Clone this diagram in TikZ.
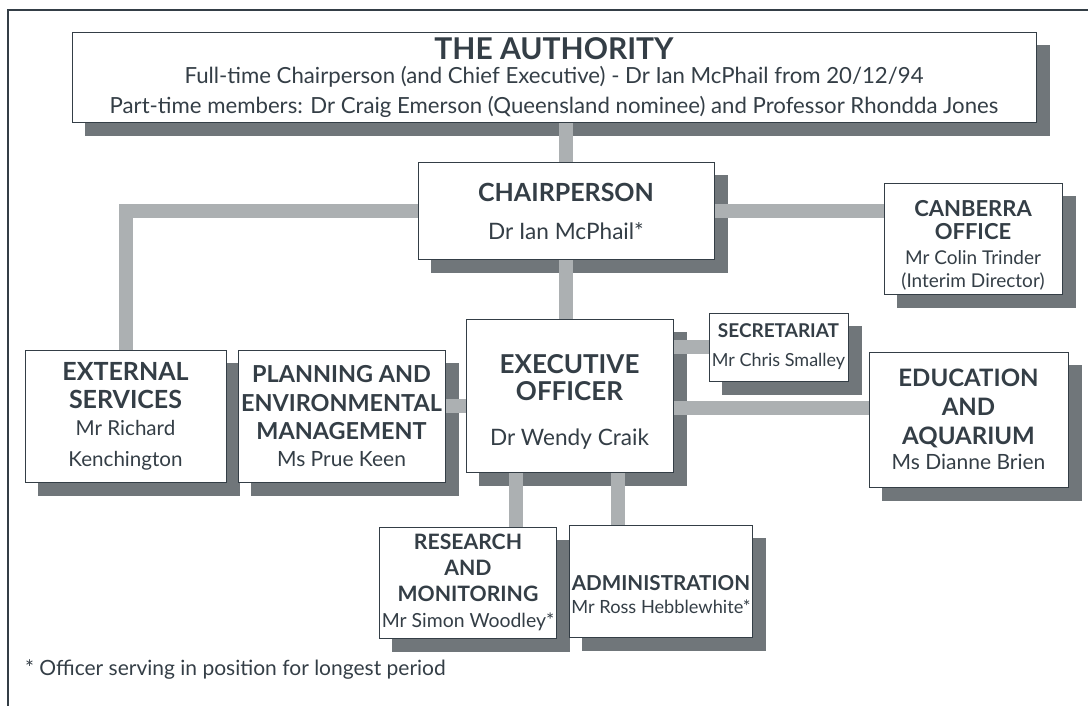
\documentclass[tikz,border=0pt]{standalone}
\usepackage{fontspec}
\setmainfont{Lato}
\pgfdeclarelayer{shadowlayer}
\pgfdeclarelayer{linklayer}
\pgfsetlayers{shadowlayer,linklayer,main}
\definecolor{ink}{RGB}{52,62,70}
\definecolor{shadowgray}{RGB}{112,118,122}
\definecolor{linkgray}{RGB}{172,176,178}
\newcommand{\hd}[2]{{\bfseries\fontsize{#1}{#1}\selectfont #2}}
\newcommand{\pad}[1]{\rule{0pt}{#1}}

\begin{document}
\begin{tikzpicture}[x=0.5pt, y=-0.5pt,
  every node/.append style={text=ink},
  unitbox/.style={draw=ink, line width=0.5pt, fill=white, align=center, inner sep=1pt},
  txt/.style 2 args={font=\fontsize{#1}{#2}\selectfont},
  link/.style={linkgray, line width=7pt},
  shadowbox/.style={fill=shadowgray},
  frame/.style={ink, line width=0.6pt}]

\useasboundingbox (0,0) rectangle (1088,706);
\draw[frame] (8,706) -- (8,10) -- (1088,10);

\node[unitbox, txt={11.1}{11}, minimum width=482pt, minimum height=45pt] (auth) at (554,78)
  {\hd{15}{THE AUTHORITY}\\[1pt] Full-time Chairperson (and Chief Executive) - Dr Ian McPhail from 20/12/94\\[4pt]
   Part-time members: Dr Craig Emerson (Queensland nominee) and Professor Rhondda Jones};
\node[unitbox, txt={11.3}{11}, minimum width=148pt, minimum height=48pt] (chair) at (566,211)
  {\hd{12.5}{CHAIRPERSON}\\[8pt] Dr Ian McPhail*};
\node[unitbox, txt={9.5}{11.5}, minimum width=89pt, minimum height=55pt] (canb) at (973,239)
  {\pad{14.5pt}\hd{11}{CANBERRA}\\ \hd{11}{OFFICE}\\[1pt] Mr Colin Trinder\\ (Interim Director)};
\node[unitbox, txt={11.3}{13.5}, minimum width=103.5pt, minimum height=76.5pt] (exec) at (569.5,395.5)
  {\pad{16pt}\hd{13}{EXECUTIVE}\\ \hd{13}{OFFICER}\\[9pt] Dr Wendy Craik};
\node[unitbox, txt={9}{14.5}, minimum width=69.5pt, minimum height=34pt] (sec) at (778.5,347)
  {\hd{9.5}{SECRETARIAT}\\ Mr Chris Smalley};
\node[unitbox, txt={10.5}{14.5}, minimum width=99.5pt, minimum height=67.5pt] (edu) at (968.5,419.5)
  {\hd{12}{EDUCATION}\\ \hd{12}{AND}\\ \hd{12}{AQUARIUM}\\[-2pt] Ms Dianne Brien};
\node[unitbox, txt={10.5}{14.2}, minimum width=103.5pt, minimum height=66pt] (plan) at (341.5,416)
  {\hd{11.7}{PLANNING AND}\\ \hd{11.7}{ENVIRONMENTAL}\\ \hd{11.7}{MANAGEMENT}\\[-1pt] Ms Prue Keen};
\node[unitbox, txt={10.3}{14.3}, minimum width=100.5pt, minimum height=66pt] (ext) at (125.5,416)
  {\hd{12.5}{EXTERNAL}\\ \hd{12.5}{SERVICES}\\[-1pt] Mr Richard\\[1pt] Kenchington};
\node[unitbox, txt={9.7}{13}, minimum width=88pt, minimum height=55.5pt] (res) at (468,582.5)
  {\hd{10.6}{RESEARCH}\\ \hd{10.6}{AND}\\ \hd{10.6}{MONITORING}\\ Mr Simon Woodley*};
\node[unitbox, txt={9.1}{11.5}, minimum width=90pt, minimum height=56pt] (adm) at (661,581)
  {\pad{21pt}\hd{10.3}{ADMINISTRATION}\\ Mr Ross Hebblewhite*};

\node[anchor=west, txt={10.5}{12}] (note) at (18,670) {* Officer serving in position for longest period};

% shadows behind the boxes
\begin{pgfonlayer}{shadowlayer}
\foreach \n in {auth,chair,canb,exec,sec,edu,plan,ext,res,adm}
  \fill[shadowbox] ([shift={(6.5pt,-6.5pt)}]\n.south west) rectangle ([shift={(6.5pt,-6.5pt)}]\n.north east);
\end{pgfonlayer}

% connectors
\begin{pgfonlayer}{linklayer}
\draw[link] (chair.north |- auth.south) -- (chair.north);
\draw[link] (chair.south) -- (chair.south |- exec.north);
\draw[link] (chair.west) -| (ext.north);
\draw[link] (chair.east) -- (chair.east -| canb.west);
\draw[link] (sec.west) -- (sec.west -| exec.east);
\draw[link] ([yshift=6pt]edu.west) -- ([yshift=6pt]edu.west -| exec.east);
\draw[link] ([yshift=5pt]plan.east) -- ([yshift=5pt]plan.east -| exec.west);
\draw[link] ([xshift=25pt]exec.south west) -- ([xshift=25pt]exec.south west |- res.north);
\draw[link] ([xshift=76pt]exec.south west) -- ([xshift=76pt]exec.south west |- adm.north);
\end{pgfonlayer}

\end{tikzpicture}
\end{document}
